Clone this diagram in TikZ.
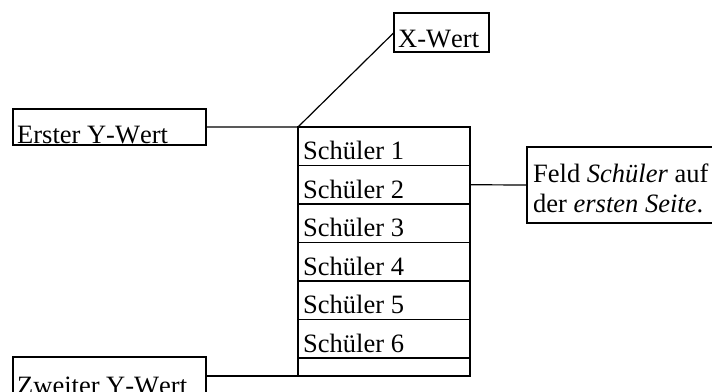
\documentclass[tikz,border=0pt]{standalone}
\usepackage{fontspec}
\setmainfont[Kerning=Off]{Liberation Serif}
\begin{document}
\begin{tikzpicture}[x=1pt,y=-1pt,
  box/.style={draw, line width=1.2pt, inner sep=0pt, outer sep=0pt, anchor=north west},
  cell/.style={box, minimum width=172pt, minimum height=38.5pt},
  txt/.style={anchor=base west, inner sep=0pt, font=\fontsize{26.5}{30}\selectfont},
  wire/.style={line width=1.2pt}]
\useasboundingbox (0,0) rectangle (712,391);
\clip (0,0) rectangle (712,391);

% labels around the table
\node[box, minimum width=95pt, minimum height=39pt] (xw) at (394,13) {};
\node[txt] (xwt) at (398,47) {X-Wert};

\node[box, minimum width=193pt, minimum height=36pt] (ey) at (13,109) {};
\node[txt] (eyt) at (17,143) {Erster Y-Wert};

\node[box, minimum width=193pt, minimum height=38pt] (zy) at (13,357) {};
\node[txt] (zyt) at (17,394) {Zweiter Y-Wert};

\node[box, minimum width=190pt, minimum height=76pt] (feld) at (527,147) {};
\node[txt] (feldt1) at (533,182) {Feld \textit{Schüler} auf};
\node[txt] (feldt2) at (533,212) {der \textit{ersten Seite}.};

% the table of pupils
\foreach \i in {1,...,6} {
  \node[cell] (r\i) at (298,{127+38.5*(\i-1)}) {};
  \node[txt] (r\i t) at (303,{127+38.5*\i-6}) {Schüler \i};
}
\node[cell, minimum height=18pt] (r7) at (298,358) {};

% connectors
\draw[wire] (ey.east) -- (r1.north west) -- (xw.west);
\draw[wire] (r2.east) -- (feld.west);
\draw[wire] (zy.east) -- (r7.south west);
\end{tikzpicture}
\end{document}
